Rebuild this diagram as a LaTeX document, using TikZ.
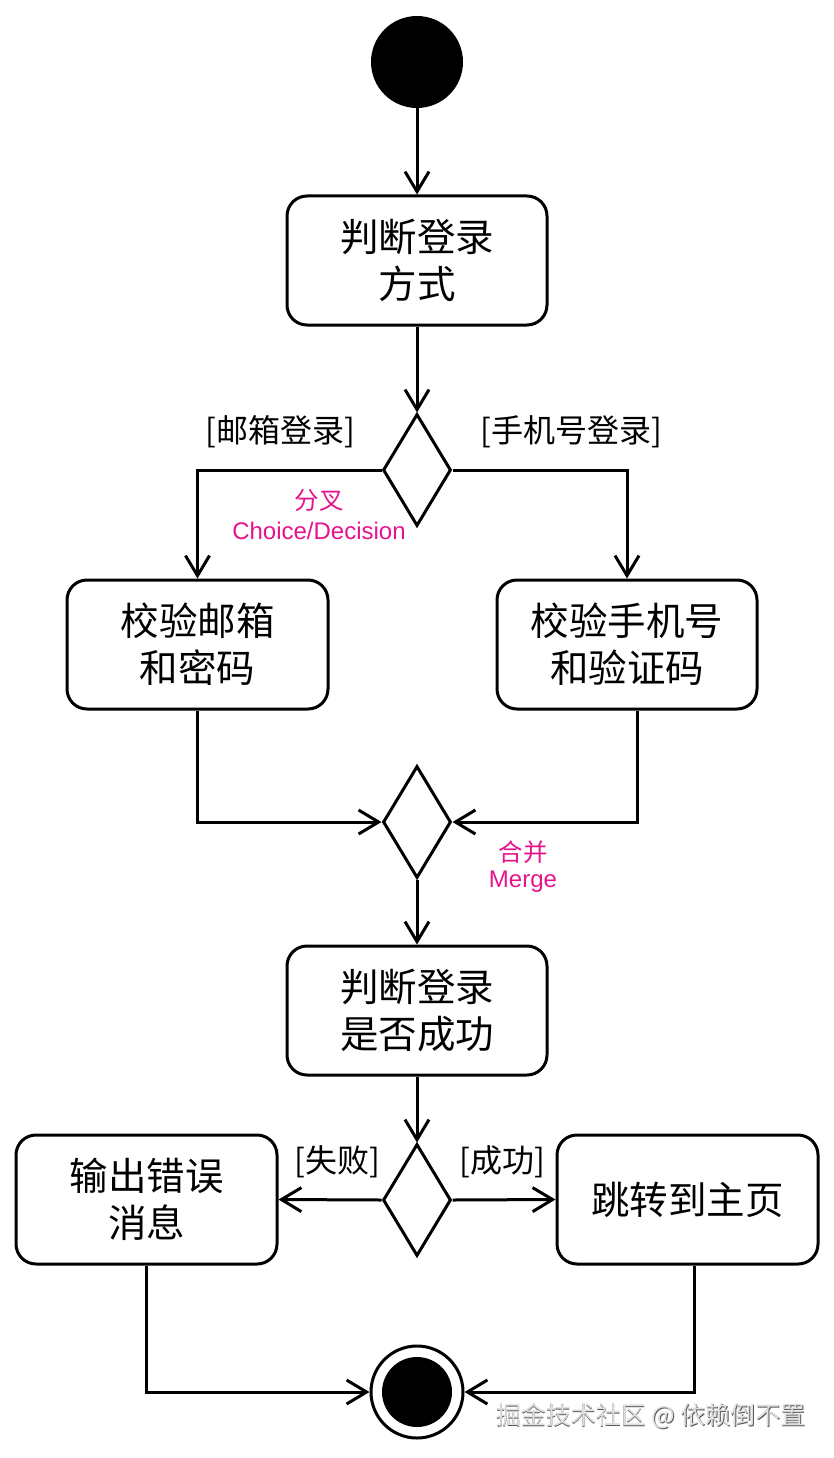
\documentclass[tikz,border=0pt]{standalone}
\usepackage{fontspec}
\setmainfont{Noto Sans CJK SC}
\newfontfamily\lat{Liberation Sans}
\usetikzlibrary{arrows.meta,shapes.geometric,calc}
\definecolor{pinkc}{RGB}{230,20,140}
\tikzset{
  act/.style={draw, line width=3pt, rounded corners=20pt, minimum width=260pt, minimum height=129pt, align=center, inner sep=0pt, font=\fontsize{38.5}{47}\selectfont},
  dia/.style={draw, diamond, line width=3pt, minimum width=68pt, minimum height=112pt, inner sep=0pt},
  flow/.style={line width=3pt, -{Straight Barb[length=20pt,width=24pt]}},
  plain/.style={line width=3pt},
  guard/.style={font=\fontsize{32}{36}\selectfont},
  note/.style={text=pinkc, align=center, font=\fontsize{24.5}{30}\selectfont},
}
\begin{document}
\begin{tikzpicture}[x=1pt,y=-1pt]
\useasboundingbox[fill=white] (0,0) rectangle (834,1458);

\node[circle, fill=black, minimum size=92pt, inner sep=0pt] (start) at (417,62) {};
\node[act] (b1) at (417,260.5) {判断登录\\方式};
\node[dia] (d1) at (417,470) {};
\node[act, minimum width=261pt] (b2) at (197.5,644.5) {校验邮箱\\和密码};
\node[act] (b3) at (627,644.5) {校验手机号\\和验证码};
\node[dia] (d2) at (417,822) {};
\node[act] (b4) at (417,1010.5) {判断登录\\是否成功};
\node[dia] (d3) at (417,1200) {};
\node[act, minimum width=261pt] (b5) at (146.5,1199.5) {输出错误\\消息};
\node[act, minimum width=261pt] (b6) at (687.5,1199.5) {跳转到主页};
\node[circle, draw, fill=white, line width=3pt, minimum size=92pt, inner sep=0pt] (endc) at (417,1392) {};
\node[circle, fill=black, minimum size=70pt, inner sep=0pt] (endi) at (417,1392) {};

\draw[flow] (start) -- (b1);
\draw[flow] (b1) -- (d1);
\draw[flow] (d1.west) -| (b2.north);
\draw[flow] (d1.east) -| (b3.north);
\draw[flow] (b2.south) |- (d2.west);
\draw[flow] ([xshift=10pt]b3.south) |- (d2.east);
\draw[flow] (d2) -- (b4);
\draw[flow] (b4) -- (d3);
\draw[flow] (d3.west) -- (b5.east);
\draw[flow] (d3.east) -- (b6.west);
\draw[flow] (b5.south) |- (endc.west);
\draw[flow] ([xshift=7pt]b6.south) |- (endc.east);

\node[guard] (g1) at (280,432) {[邮箱登录]};
\node[guard] (g2) at (571,432) {[手机号登录]};
\node[guard] (g3) at (337,1162) {[失败]};
\node[guard] (g4) at (502,1162) {[成功]};

\node[note] (n1) at (319,500) {分叉};
\node[note] (n2) at (319,531) {\lat\fontsize{24}{30}\selectfont Choice/Decision};
\node[note] (n3) at (523,852) {合并};
\node[note] (n4) at (523,882) {\lat\fontsize{24}{30}\selectfont Merge};

\node[text=gray!70!black, font=\fontsize{25}{30}\selectfont] (wm0) at (651.8,1416.8) {掘金技术社区 @ 依赖倒不置};
\node[text=gray!25, font=\fontsize{25}{30}\selectfont] (wm) at (651,1416) {掘金技术社区 @ 依赖倒不置};
\end{tikzpicture}
\end{document}
